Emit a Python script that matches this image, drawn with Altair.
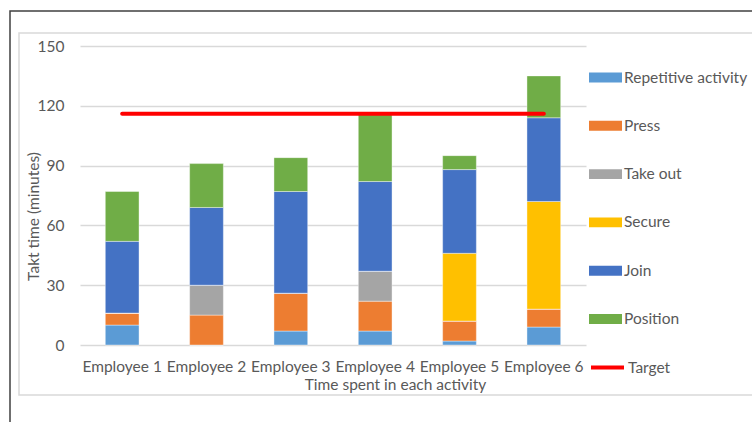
import altair as alt
import pandas as pd

employees = ["Employee 1", "Employee 2", "Employee 3", "Employee 4", "Employee 5", "Employee 6"]
activities = ["Repetitive activity", "Press", "Take out", "Secure", "Join", "Position"]
colors = ["#5B9BD5", "#ED7D31", "#A5A5A5", "#FFC000", "#4472C4", "#70AD47"]

repetitive = [10, 0, 7, 7, 2, 9]
press = [6, 15, 19, 15, 10, 9]
take_out = [0, 15, 0, 15, 0, 0]
secure = [0, 0, 0, 0, 34, 54]
join = [36, 39, 51, 45, 42, 42]
position = [25, 22, 17, 34, 7, 21]
target = [116, 116, 116, 116, 116, 116]

series = [repetitive, press, take_out, secure, join, position]
rows = []
for k, (act, vals) in enumerate(zip(activities, series)):
    for emp, v in zip(employees, vals):
        rows.append({"employee": emp, "activity": act, "value": v, "order": k})
bars_df = pd.DataFrame(rows)
line_df = pd.DataFrame({"employee": employees, "value": target, "series": ["Target"] * 6})

FONT = "Lato"
FS = 15.5
GRID = "#D9D9D9"
TXT = "#595959"

x_enc = alt.X(
    "employee:N",
    sort=employees,
    scale=alt.Scale(paddingInner=0.6, paddingOuter=0.3),
    axis=alt.Axis(
        title="Time spent in each activity",
        labelAngle=0,
        labelBaseline="middle",
        labelPadding=21,
        ticks=False,
        tickSize=0,
        domain=False,
        labelFontSize=FS,
        labelColor=TXT,
        labelFont=FONT,
        titleFont=FONT,
        titleFontSize=FS,
        titleFontWeight="normal",
        titleColor=TXT,
        titleX=315,
        titleY=39,
        titleBaseline="middle",
        titleAnchor="start",
        titleAlign="center",
    ),
)

y_axis = alt.Axis(
    title="Takt time (minutes)",
    values=[0, 30, 60, 90, 120, 150],
    ticks=False,
    tickSize=0,
    domain=False,
    labelPadding=16,
    labelFontSize=FS,
    labelColor=TXT,
    labelFont=FONT,
    grid=True,
    gridColor=GRID,
    gridWidth=1.3,
    titleFont=FONT,
    titleFontSize=FS,
    titleFontWeight="normal",
    titleColor=TXT,
    titleX=-47,
    titleY=170,
    titleAngle=-90,
    titleBaseline="middle",
    titleAlign="center",
    titleAnchor="start",
)

bars = alt.Chart(bars_df).mark_bar(stroke="white", strokeWidth=0.4).encode(
    x=x_enc,
    y=alt.Y("value:Q", stack="zero", scale=alt.Scale(domain=[0, 150], nice=False, zero=True), axis=y_axis),
    color=alt.Color(
        "activity:N",
        sort=activities,
        scale=alt.Scale(domain=activities, range=colors),
        legend=alt.Legend(
            title=None,
            orient="none",
            legendX=509,
            legendY=15,
            symbolType="M-1,-0.3L1,-0.3L1,0.3L-1,0.3Z",
            symbolSize=1089,
            symbolStrokeWidth=0,
            symbolOpacity=1,
            labelFontSize=FS,
            labelFont=FONT,
            labelColor=TXT,
            labelOffset=2,
            rowPadding=23.3,
            labelLimit=200,
        ),
    ),
    order=alt.Order("order:Q", sort="ascending"),
)

line = alt.Chart(line_df).mark_line(strokeWidth=4, strokeCap="round").encode(
    x=alt.X("employee:N", sort=employees),
    y=alt.Y("value:Q"),
    stroke=alt.Stroke(
        "series:N",
        scale=alt.Scale(domain=["Target"], range=["#FF0000"]),
        legend=alt.Legend(
            title=None,
            orient="none",
            legendX=509,
            legendY=303,
            symbolType="stroke",
            symbolSize=1089,
            symbolStrokeWidth=4,
            labelFontSize=FS,
            labelFont=FONT,
            labelColor=TXT,
            labelOffset=2,
        ),
    ),
)

one = alt.Data(values=[{}])
inner_frame = alt.Chart(one).mark_rect(fill=None, stroke="#D9D9D9", strokeWidth=1.5).encode(
    x=alt.value(-61), x2=alt.value(700), y=alt.value(-13), y2=alt.value(349)
)
outer_frame = alt.Chart(one).mark_rect(fill=None, stroke="#404040", strokeWidth=1.5).encode(
    x=alt.value(-70), x2=alt.value(720), y=alt.value(-35), y2=alt.value(420)
)

chart = alt.layer(outer_frame, inner_frame, bars, line).properties(
    width=506,
    height=299,
    autosize=alt.AutoSizeParams(type="none"),
    padding={"left": 80, "top": 46, "right": 166, "bottom": 77},
    background="white",
).configure_view(stroke=None)

chart.save("out.html", embed_options={"renderer": "svg", "actions": False})
